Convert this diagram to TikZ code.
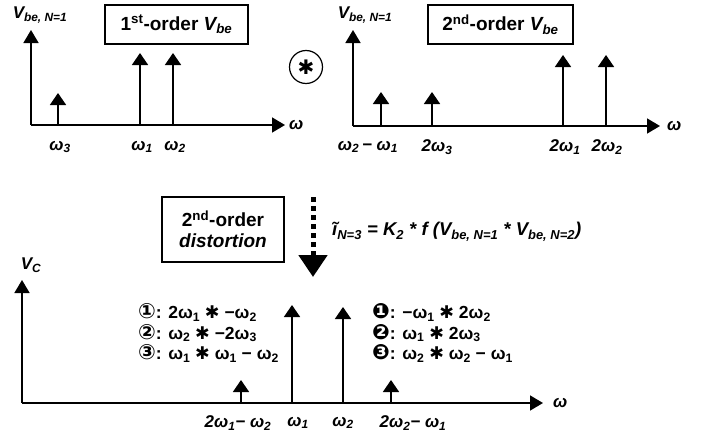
\documentclass[tikz,border=0pt]{standalone}
\usepackage{fontspec}
\setmainfont{Liberation Sans}
\newfontfamily\symfont{DejaVu Sans}
\usetikzlibrary{arrows.meta, positioning}
\newcommand{\omg}[1]{ω\textsubscript{#1}}
\newcommand{\conv}{{\symfont ✱}}
\newcommand{\tag}[1]{{\symfont\fontsize{21}{20}\selectfont #1}}

\begin{document}
\begin{tikzpicture}[x=1pt, y=-1pt,
      axis/.style ={line width=1.6pt, -{Triangle[width=15pt, length=13pt]}},
      spike/.style={line width=1.6pt, -{Triangle[width=16pt, length=12pt]}},
      tbox/.style ={draw, line width=1.2pt, inner sep=0pt,
                    font=\fontsize{19}{21}\selectfont\bfseries, align=center},
      wlab/.style ={font=\fontsize{17}{19}\selectfont\bfseries\itshape, inner sep=0pt},
      mix/.style  ={font=\fontsize{17.5}{20.5}\selectfont\bfseries, align=left, inner sep=0pt},
    ]
      \useasboundingbox (0,0) rectangle (702,439);

      % first-order spectrum
      \coordinate (o1) at (31,125);
      \coordinate (y1) at (31,30);
      \coordinate (x1) at (285,125);
      \draw[axis] (o1) -- (y1);
      \draw[axis] (o1) -- (x1);
      \node[wlab] (v1) at (40,15) {V\textsubscript{be, N=1}};
      \node[wlab, right=4pt of x1] (w1) {ω};
      \node[tbox, minimum width=143pt, minimum height=39pt] (b1) at (176.5,24.5)
        {1\textsuperscript{st}-order \textit{V\textsubscript{be}}};
      \foreach \x/\top/\lab in {58/93/\omg{3}, 140/53/\omg{1}, 173/53/\omg{2}} {
        \draw[spike] (\x,125) -- (\x,\top);
        \node[wlab] at (\x+2,147) {\lab};
      }

      % convolution sign
      \node[draw, circle, line width=1.2pt, minimum size=33pt, inner sep=0pt,
            font=\fontsize{20}{20}\selectfont] (cv) at (306,67) {\conv};

      % second-order spectrum
      \coordinate (o2) at (353,126);
      \coordinate (y2) at (353,30);
      \coordinate (x2) at (660,126);
      \draw[axis] (o2) -- (y2);
      \draw[axis] (o2) -- (x2);
      \node[wlab] (v2) at (365,15) {V\textsubscript{be, N=1}};
      \node[wlab, right=7pt of x2] (w2) {ω};
      \node[tbox, minimum width=145pt, minimum height=39pt] (b2) at (500.5,24.5)
        {2\textsuperscript{nd}-order \textit{V\textsubscript{be}}};
      \foreach \x/\top/\lx/\lab in {381/92/368/\omg{2}{\upshape\,}− \omg{1},
                                    432/92/437/2\omg{3},
                                    563/55/565/2\omg{1}, 606/55/607/2\omg{2}} {
        \draw[spike] (\x,126) -- (\x,\top);
        \node[wlab] at (\lx,147) {\lab};
      }

      % distortion step
      \node[tbox, minimum width=122pt, minimum height=65pt] (b3) at (223,229.5)
        {2\textsuperscript{nd}-order\\\textit{distortion}};
      \coordinate (d0) at (313,197);
      \coordinate (d1) at (313,277);
      \draw[line width=5pt, dash pattern=on 5pt off 4pt,
            -{Triangle[width=28pt, length=22pt]}] (d0) -- (d1);
      \node[wlab, anchor=west, font=\fontsize{18.5}{20}\selectfont\bfseries\itshape] (eq) at (332,232)
        {ĩ\textsubscript{N=3} = K\textsubscript{2} * f (V\textsubscript{be, N=1} * V\textsubscript{be, N=2})};

      % output spectrum
      \coordinate (o3) at (22,403);
      \coordinate (y3) at (22,280);
      \coordinate (x3) at (543,403);
      \draw[axis] (o3) -- (y3);
      \draw[axis] (o3) -- (x3);
      \node[wlab] (vc) at (31,265) {V\textsubscript{C}};
      \node[wlab, right=10pt of x3] (w3) {ω};
      \foreach \x/\top/\lx/\lab in {241/380/238/2\omg{1}− \omg{2},
                                    292/305/298/\omg{1},
                                    343/307/343/\omg{2},
                                    391/380/413/2\omg{2}− \omg{1}} {
        \draw[spike] (\x,403) -- (\x,\top);
        \node[wlab] at (\lx,423) {\lab};
      }
      \node[mix, anchor=west] (mixA) at (138,333)
        {\tag{①}: 2ω\textsubscript{1} \conv{} −ω\textsubscript{2}\\
         \tag{②}: ω\textsubscript{2} \conv{} −2ω\textsubscript{3}\\
         \tag{③}: ω\textsubscript{1} \conv{} ω\textsubscript{1} − ω\textsubscript{2}};
      \node[mix, anchor=west] (mixB) at (372,333)
        {\tag{❶}: −ω\textsubscript{1} \conv{} 2ω\textsubscript{2}\\
         \tag{❷}: ω\textsubscript{1} \conv{} 2ω\textsubscript{3}\\
         \tag{❸}: ω\textsubscript{2} \conv{} ω\textsubscript{2} − ω\textsubscript{1}};
    \end{tikzpicture}
\end{document}
